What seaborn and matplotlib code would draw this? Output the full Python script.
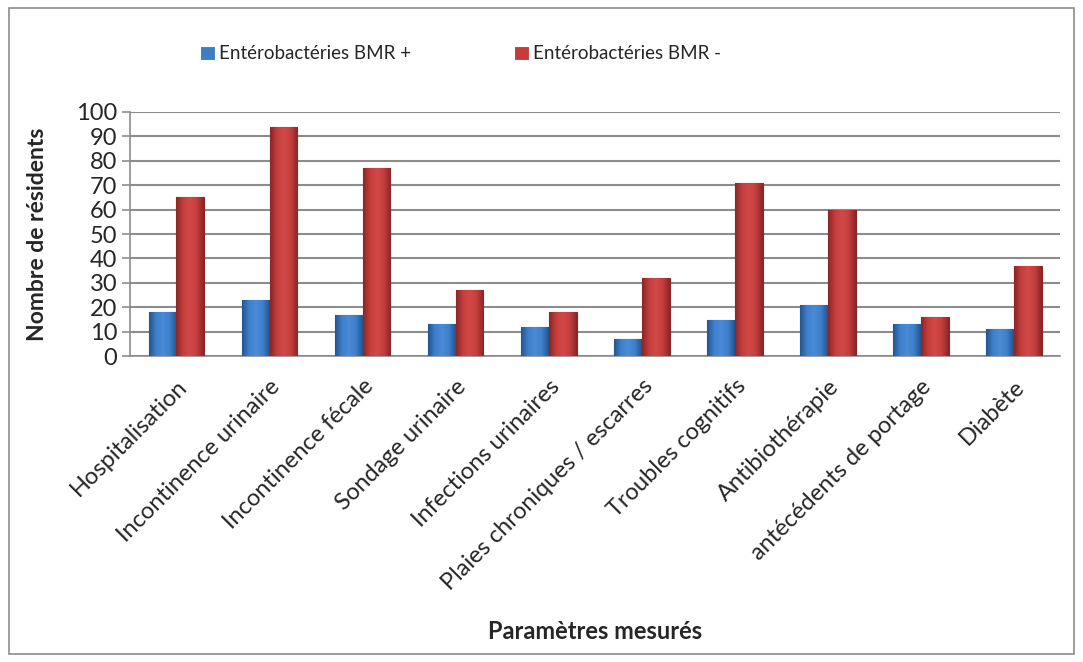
import numpy as np
import pandas as pd
import seaborn as sns
from matplotlib import pyplot as plt
from matplotlib.patches import Rectangle
from matplotlib.colors import LinearSegmentedColormap

categories = ["Hospitalisation", "Incontinence urinaire", "Incontinence fécale",
              "Sondage urinaire", "Infections urinaires",
              "Plaies chroniques / escarres", "Troubles cognitifs",
              "Antibiothérapie", "antécédents de portage", "Diabète"]
bmr_pos = [18, 23, 17, 13, 12, 7, 15, 21, 13, 11]
bmr_neg = [65, 94, 77, 27, 18, 32, 71, 60, 16, 37]
series = ["Entérobactéries BMR +", "Entérobactéries BMR -"]

df = pd.DataFrame({
    "categorie": categories * 2,
    "serie": [series[0]] * len(categories) + [series[1]] * len(categories),
    "valeur": bmr_pos + bmr_neg,
})

sns.set_style("white")
plt.rcParams["font.family"] = ["Lato", "DejaVu Sans"]

fig = plt.figure(figsize=(10.83, 6.62), dpi=100)
ax = fig.add_axes([0.12, 0.462, 0.859, 0.369])

sns.barplot(data=df, x="categorie", y="valeur", hue="serie",
            palette=["#3d7cc6", "#c63c3b"], width=0.6, ax=ax,
            linewidth=0.8, saturation=1, zorder=3)

# bevel-like shading over each bar (dark edges, light centre)
shades = {
    "#3d7cc6": ["#24558f", "#3f80cc", "#4a8ad6", "#3f80cc", "#24558f"],
    "#c63c3b": ["#8a2626", "#c43e3d", "#d14a48", "#c43e3d", "#8a2626"],
}
grad = np.linspace(0, 1, 64).reshape(1, -1)
bars = ax.patches[:2 * len(categories)]
for i, bar in enumerate(bars):
    key = "#3d7cc6" if i < len(categories) else "#c63c3b"
    bar.set_edgecolor(shades[key][0])
    cmap = LinearSegmentedColormap.from_list("b%d" % i, shades[key])
    x0, y0 = bar.get_x(), bar.get_y()
    im = ax.imshow(grad, cmap=cmap, aspect="auto", zorder=3.5,
                   extent=(x0, x0 + bar.get_width(), y0, y0 + bar.get_height()))
    im.set_clip_path(bar)

ax.set_ylim(0, 100)
ax.set_xlim(-0.5, len(categories) - 0.5)
ax.set_yticks(np.arange(0, 101, 10))
ax.yaxis.grid(True, color="#8c8c8c", linewidth=1.5, zorder=0)
ax.set_axisbelow(True)
for s in ["top", "right"]:
    ax.spines[s].set_visible(False)
for s in ["left", "bottom"]:
    ax.spines[s].set_color("#8c8c8c")
    ax.spines[s].set_linewidth(1.2)

ax.set_xticks(np.arange(len(categories)))
ax.set_xticklabels(categories, rotation=45, ha="right",
                   rotation_mode="anchor", fontsize=17)
ax.tick_params(axis="x", length=0, pad=14)
ax.set_xticks(np.arange(-0.5, len(categories)), minor=True)
ax.tick_params(axis="x", which="minor", length=7, color="#8c8c8c",
               width=1.2, direction="out")
ax.tick_params(axis="y", labelsize=17, length=6, color="#8c8c8c",
               width=1.2, direction="out", left=True, pad=3)

ax.set_xlabel("Paramètres mesurés", fontsize=17, fontweight="bold")
ax.xaxis.set_label_coords(0.5, -1.08)
ax.set_ylabel("Nombre de résidents", fontsize=16.5, fontweight="bold")
ax.yaxis.set_label_coords(-0.088, 0.5)

ax.legend(loc="center", bbox_to_anchor=(0.355, 1.238), ncol=2,
          frameon=False, fontsize=13.5, handlelength=0.8, handleheight=0.8,
          handletextpad=0.2, columnspacing=5.5)

fig.patches.append(Rectangle((0.008, 0.012), 0.984, 0.976,
                             transform=fig.transFigure, fill=False,
                             edgecolor="#8c8c8c", linewidth=1.2))

fig.savefig("out.png", dpi=100, facecolor="white")
